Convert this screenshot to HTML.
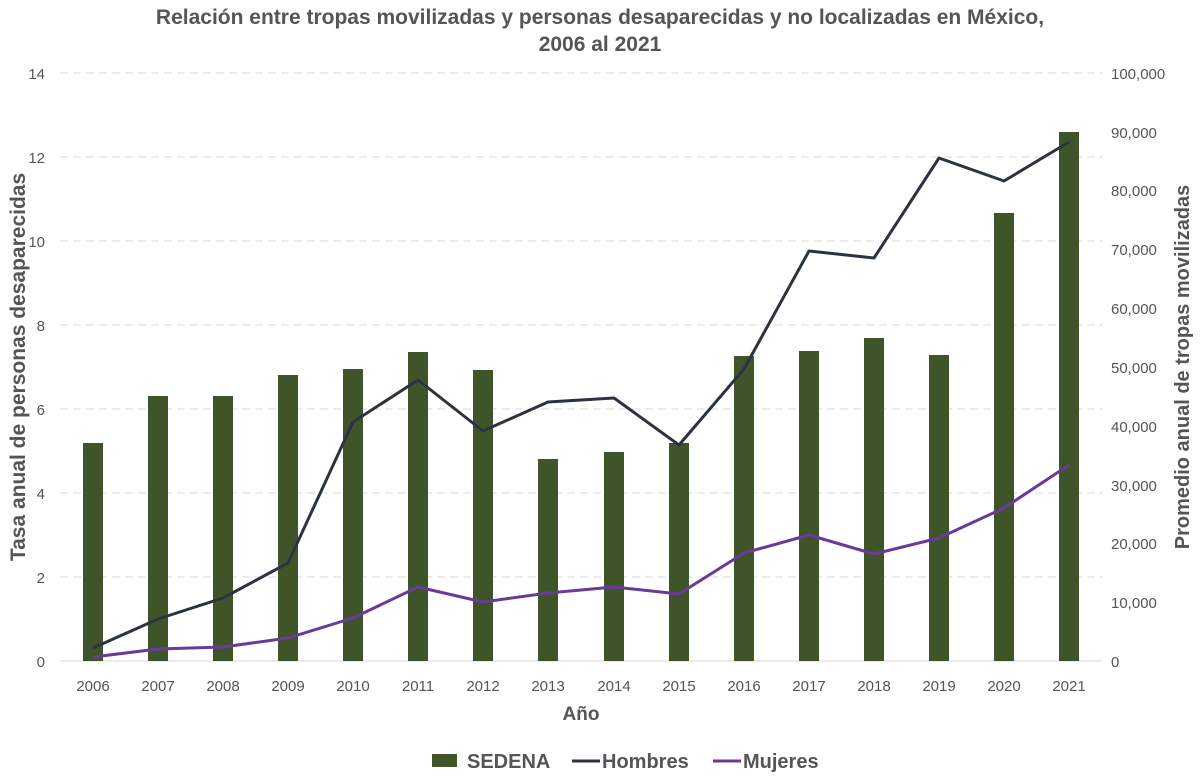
<!DOCTYPE html>
<html><head><meta charset="utf-8"><style>
body{margin:0;background:#fff;}
svg{display:block;font-family:"Liberation Sans",sans-serif;}
.t{font-size:15px;fill:#555;}
</style></head><body>
<svg width="1200" height="783" viewBox="0 0 1200 783">
<rect width="1200" height="783" fill="#fff"/>
<g font-weight="bold" fill="#555" font-size="21" text-anchor="middle">
<text x="600" y="24">Relación entre tropas movilizadas y personas desaparecidas y no localizadas en México,</text>
<text x="600" y="51">2006 al 2021</text>
</g>
<g stroke="#d9d9d9" stroke-width="1" stroke-dasharray="8,5">
<line x1="60" y1="73" x2="1102" y2="73"/>
<line x1="60" y1="157" x2="1102" y2="157"/>
<line x1="60" y1="241" x2="1102" y2="241"/>
<line x1="60" y1="325" x2="1102" y2="325"/>
<line x1="60" y1="409" x2="1102" y2="409"/>
<line x1="60" y1="493" x2="1102" y2="493"/>
<line x1="60" y1="577" x2="1102" y2="577"/>
</g>
<line x1="60" y1="661" x2="1102" y2="661" stroke="#d9d9d9"/>
<g class="t" text-anchor="end">
<text x="45" y="79">14</text><text x="45" y="163">12</text><text x="45" y="247">10</text>
<text x="45" y="331">8</text><text x="45" y="415">6</text><text x="45" y="499">4</text>
<text x="45" y="583">2</text><text x="45" y="667">0</text>
</g>
<g class="t" text-anchor="start" font-size="14">
<text x="1111" y="79">100,000</text><text x="1111" y="138">90,000</text><text x="1111" y="196">80,000</text>
<text x="1111" y="255">70,000</text><text x="1111" y="314">60,000</text><text x="1111" y="373">50,000</text>
<text x="1111" y="432">40,000</text><text x="1111" y="491">30,000</text><text x="1111" y="549">20,000</text>
<text x="1111" y="608">10,000</text><text x="1111" y="667">0</text>
</g>
<g fill="#3f5529">
<rect x="83" y="443" width="20" height="218"/>
<rect x="148" y="396" width="20" height="265"/>
<rect x="213" y="396" width="20" height="265"/>
<rect x="278" y="375" width="20" height="286"/>
<rect x="343" y="369" width="20" height="292"/>
<rect x="408" y="352" width="20" height="309"/>
<rect x="473" y="370" width="20" height="291"/>
<rect x="538" y="459" width="20" height="202"/>
<rect x="604" y="452" width="20" height="209"/>
<rect x="669" y="443" width="20" height="218"/>
<rect x="734" y="356" width="20" height="305"/>
<rect x="799" y="351" width="20" height="310"/>
<rect x="864" y="338" width="20" height="323"/>
<rect x="929" y="355" width="20" height="306"/>
<rect x="994" y="213" width="20" height="448"/>
<rect x="1059" y="132" width="20" height="529"/>
</g>
<polyline fill="none" stroke="#2b3340" stroke-width="3" stroke-linejoin="round" points="93,648 158,619 223,598 288,563 353,422 418,380 483,431 548,402 614,398 679,445 744,369 809,251 874,258 939,158 1004,181 1069,142"/>
<polyline fill="none" stroke="#6a3a98" stroke-width="3" stroke-linejoin="round" points="93,657 158,649 223,647 288,638 353,618 418,587 483,602 548,593 614,587 679,594 744,553 809,535 874,554 939,538 1004,508 1069,465"/>
<g class="t" text-anchor="middle">
<text x="93" y="691">2006</text><text x="158" y="691">2007</text><text x="223" y="691">2008</text><text x="288" y="691">2009</text>
<text x="353" y="691">2010</text><text x="418" y="691">2011</text><text x="483" y="691">2012</text><text x="548" y="691">2013</text>
<text x="614" y="691">2014</text><text x="679" y="691">2015</text><text x="744" y="691">2016</text><text x="809" y="691">2017</text>
<text x="874" y="691">2018</text><text x="939" y="691">2019</text><text x="1004" y="691">2020</text><text x="1069" y="691">2021</text>
</g>
<text x="581" y="720" text-anchor="middle" font-weight="bold" font-size="19" fill="#555">Año</text>
<text transform="translate(25,367) rotate(-90)" text-anchor="middle" font-weight="bold" font-size="21" fill="#555">Tasa anual de personas desaparecidas</text>
<text transform="translate(1189,367) rotate(-90)" text-anchor="middle" font-weight="bold" font-size="20" fill="#555">Promedio anual de tropas movilizadas</text>
<rect x="432" y="754" width="25" height="13" fill="#3f5529"/>
<text x="467" y="768" font-weight="bold" font-size="20" fill="#555">SEDENA</text>
<line x1="572" y1="761" x2="600" y2="761" stroke="#2b3340" stroke-width="3"/>
<text x="602" y="768" font-weight="bold" font-size="20" fill="#555">Hombres</text>
<line x1="713" y1="761" x2="741" y2="761" stroke="#6a3a98" stroke-width="3"/>
<text x="743" y="768" font-weight="bold" font-size="20" fill="#555">Mujeres</text>
</svg>
</body></html>
